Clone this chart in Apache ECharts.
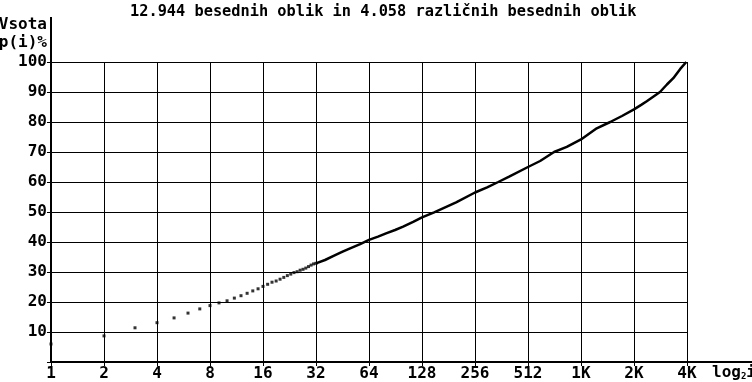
<!DOCTYPE html>
<html>
<head>
<meta charset="utf-8">
<script src="https://cdn.jsdelivr.net/npm/echarts@6/dist/echarts.min.js"></script>
<style>
html,body{margin:0;padding:0;background:#fff;}
#c{width:752px;height:382px;}
</style>
</head>
<body>
<div id="c"></div>
<script>
const titleText = '12.944 besednih oblik in 4.058 različnih besednih oblik';
const yAxisTitle = 'Vsota\np(i)%';
const xTickLabels = ['1','2','4','8','16','32','64','128','256','512','1K','2K','4K'];

// individual ranks drawn as dots
const dotRanks = [1,2,3,4,5,6,7,8,9,10,11,12,13,14,15,16,17,18,19,20,21,22,23,24,25,26,27,28,29,30,31,32];
const dotValues = [6.0,8.7,11.4,13.1,14.7,16.3,17.7,18.8,19.7,20.4,21.3,22.1,22.9,23.7,24.4,25.2,25.9,26.6,27.0,27.6,28.2,28.8,29.3,29.8,30.1,30.6,30.9,31.3,31.8,32.3,32.7,32.9];

// dense part
const lineRanks = [32,36,40,45,50,57,64,72,80,90,100,114,128,150,200,256,300,347,400,512,600,720,850,1024,1258,1500,1750,2048,2250,2420,2877,3150,3424,3750,4058];
const lineValues = [32.9,34.0,35.3,36.7,37.9,39.3,40.7,41.8,42.9,44.0,45.1,46.7,48.2,49.9,53.2,56.5,58.2,60.0,61.8,65.0,67.0,70.0,71.7,74.2,77.9,80.0,82.0,84.2,85.7,86.9,90.0,92.5,94.6,97.7,100];

const FONT = 'DejaVu Sans Mono';
const chart = echarts.init(document.getElementById('c'), null, {renderer:'canvas'});

const dotData = dotRanks.map((r,i)=>[r, dotValues[i]]);
const lineData = lineRanks.map((r,i)=>[r, lineValues[i]]);

chart.setOption({
  animation:false,
  backgroundColor:'#fff',
  title:{
    text:titleText, left:125, top:0,
    textStyle:{fontFamily:FONT, fontWeight:'bold', fontSize:15.3, color:'#000'}
  },
  grid:{left:51, right:65, top:62, bottom:20, containLabel:false, outerBoundsMode:'none'},
  xAxis:{
    type:'log', logBase:2, min:1, max:4096, interval:1, splitNumber:12,
    name:'{a|log}{b|2}{a|i}', nameLocation:'end', nameGap:25,
    nameTextStyle:{align:'left', verticalAlign:'top', padding:[3,0,0,0],
      rich:{
        a:{fontFamily:FONT, fontWeight:'bold', fontSize:16, color:'#000'},
        b:{fontFamily:FONT, fontWeight:'bold', fontSize:9, color:'#000', verticalAlign:'bottom'}
      }},
    axisLine:{show:true, onZero:false, lineStyle:{color:'#000', width:2}},
    axisTick:{show:true, length:4, lineStyle:{color:'#000', width:1}},
    axisLabel:{
      show:true, margin:4, color:'#000', fontFamily:FONT, fontWeight:'bold', fontSize:16,
      showMinLabel:true, showMaxLabel:true, hideOverlap:false,
      formatter:function(v){ const k = Math.round(Math.log2(v)); return xTickLabels[k] !== undefined ? xTickLabels[k] : ''; }
    },
    splitLine:{show:true, lineStyle:{color:'#000', width:1}}
  },
  yAxis:{
    type:'value', min:0, max:100, interval:10,
    name:yAxisTitle, nameLocation:'end', nameGap:10,
    nameTextStyle:{align:'right', verticalAlign:'bottom', padding:[0,4,0,0], lineHeight:18,
      fontFamily:FONT, fontWeight:'bold', fontSize:16, color:'#000'},
    axisLine:{show:true, lineStyle:{color:'#000', width:2}},
    axisTick:{show:true, length:4, lineStyle:{color:'#000', width:1}},
    axisLabel:{margin:4, color:'#000', fontFamily:FONT, fontWeight:'bold', fontSize:16,
      formatter:function(v){ return v === 0 ? '' : String(v); }},
    splitLine:{show:true, lineStyle:{color:'#000', width:1}}
  },
  graphic:[
    {type:'line', shape:{x1:51, y1:17, x2:51, y2:62}, style:{stroke:'#000', lineWidth:2}, z:100},
    {type:'line', shape:{x1:687, y1:362, x2:752, y2:362}, style:{stroke:'#000', lineWidth:2}, z:100}
  ],
  series:[
    {type:'scatter', data:dotData, symbol:'rect', symbolSize:3, clip:false,
     itemStyle:{color:'#000'}, silent:true, z:10},
    {type:'line', data:lineData, showSymbol:false, smooth:false, clip:false,
     lineStyle:{color:'#000', width:2.5}, silent:true, z:4}
  ]
});
</script>
</body>
</html>
